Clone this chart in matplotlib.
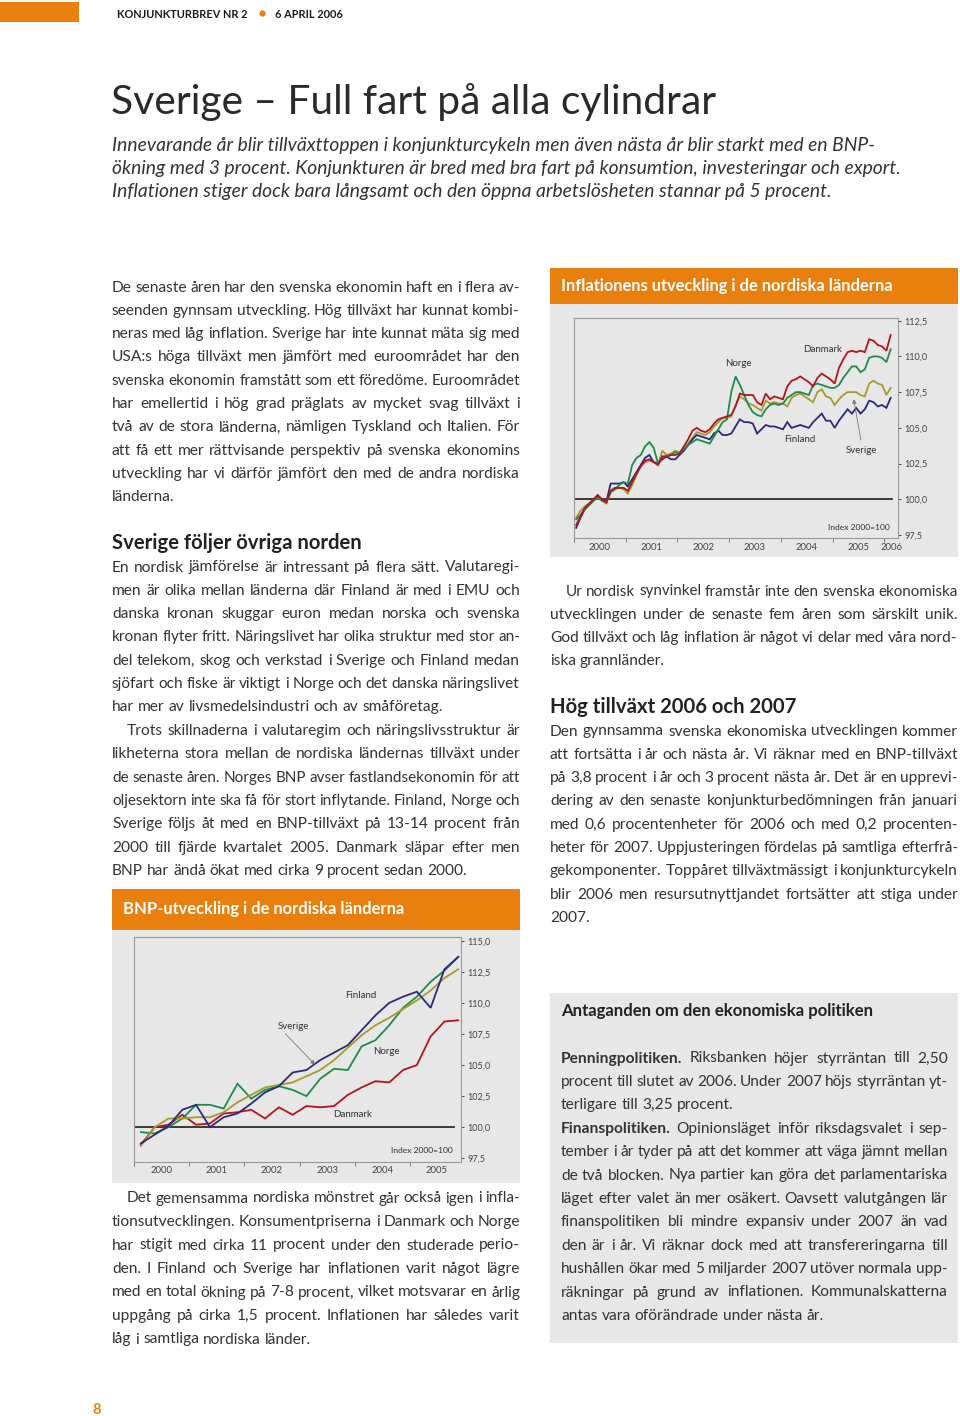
import numpy as np
import matplotlib.pyplot as plt
from matplotlib.font_manager import FontProperties

W, H = 960, 1416
ORANGE = '#e9800e'
BOX = '#e7e7e7'
TXT = '#333333'
BODY = ['Lato', 'DejaVu Sans']
BODY_SIZE = 11.2

COL_FIN = '#2c2a7c'
COL_DAN = '#b3141f'
COL_NOR = '#1d8c4c'
COL_SWE = '#a69a2c'

# Inflation, monthly index (2000=100), Jan 2000 - Feb 2006
infl_fin = [98.0, 98.7, 99.3, 99.6, 99.9, 100.2, 100.0, 99.8, 101.1, 101.1, 101.1, 101.2,
            100.9, 101.4, 101.9, 102.4, 102.9, 103.1, 102.6, 102.5, 102.8, 103.0, 102.8, 102.8,
            103.1, 103.4, 103.8, 104.2, 104.5, 104.4, 104.3, 104.2, 104.6, 104.8, 104.5, 104.5,
            104.6, 105.1, 105.6, 105.4, 105.4, 105.3, 104.6, 104.9, 105.2, 105.1, 105.1, 105.0,
            104.9, 105.4, 105.0, 105.1, 105.2, 105.1, 105.0, 105.4, 105.7, 106.0, 105.5, 105.5,
            105.0, 105.5, 105.9, 106.3, 106.0, 106.4, 106.0, 106.3, 106.9, 106.8, 106.5, 106.6,
            106.4, 107.1]
infl_dan = [98.2, 98.8, 99.4, 99.7, 100.0, 100.3, 100.0, 99.8, 100.6, 100.8, 100.8, 100.8,
            100.6, 101.2, 101.8, 102.3, 102.7, 102.8, 102.6, 102.4, 103.0, 103.0, 103.1, 103.1,
            103.2, 103.7, 104.2, 104.8, 105.0, 104.8, 104.7, 104.9, 105.3, 105.6, 105.7, 105.8,
            105.9, 106.5, 107.4, 107.3, 107.3, 107.3, 106.8, 106.6, 107.4, 107.0, 107.2, 107.1,
            107.0, 107.9, 108.3, 108.4, 108.6, 108.4, 108.2, 107.9, 108.5, 108.8, 108.6, 108.4,
            108.1, 109.2, 109.8, 110.3, 110.4, 110.3, 110.4, 110.3, 111.2, 111.1, 110.8, 110.7,
            110.4, 111.5]
infl_nor = [98.6, 98.9, 99.3, 99.6, 99.9, 100.2, 99.9, 99.8, 100.5, 100.7, 101.0, 101.2,
            101.1, 102.4, 102.9, 103.1, 103.7, 104.0, 103.6, 102.5, 103.0, 103.0, 103.1, 103.3,
            103.2, 103.5, 103.8, 104.0, 104.2, 104.1, 104.0, 103.9, 104.4, 104.9, 105.4, 105.6,
            107.5, 108.6, 108.0, 107.3, 106.6, 106.1, 105.9, 105.8, 106.3, 106.6, 106.7, 106.6,
            106.7, 107.1, 107.3, 107.5, 107.5, 107.4, 107.3, 108.0, 108.1, 108.0, 107.9, 107.8,
            107.8, 108.0, 108.5, 108.9, 109.3, 109.3, 108.9, 109.1, 109.9, 110.0, 110.0, 109.9,
            109.6, 110.5]
infl_swe = [98.7, 99.2, 99.5, 99.7, 99.9, 100.1, 99.9, 99.7, 100.5, 100.7, 100.8, 100.7,
            100.4, 101.0, 101.7, 102.3, 102.6, 102.7, 102.6, 102.4, 103.4, 103.1, 103.2, 103.4,
            103.3, 103.5, 103.9, 104.3, 104.7, 104.6, 104.5, 104.7, 105.1, 105.4, 105.7, 105.7,
            105.8, 106.6, 107.2, 107.0, 106.7, 106.6, 106.4, 106.2, 106.9, 106.7, 106.8, 106.7,
            106.7, 106.5, 107.1, 107.3, 107.4, 107.2, 107.0, 106.8, 107.5, 107.7, 107.2, 107.1,
            106.6, 107.0, 107.3, 107.5, 107.5, 107.5, 107.3, 107.2, 108.1, 108.3, 108.1, 108.0,
            107.3, 107.8]
infl_years = ['2000', '2001', '2002', '2003', '2004', '2005', '2006']

# BNP, quarterly index (2000=100), 2000Q1 - 2005Q4
bnp_fin = [98.7, 99.4, 100.1, 101.4, 101.8, 100.0, 100.8, 101.1, 101.9, 102.8, 103.3, 104.4,
           104.6, 105.4, 106.0, 106.6, 107.8, 109.0, 110.0, 110.5, 110.9, 109.6, 112.7, 113.7]
bnp_swe = [98.5, 100.0, 100.7, 100.7, 100.8, 100.8, 101.2, 102.0, 102.6, 103.2, 103.4, 103.6,
           104.1, 104.6, 105.4, 106.4, 107.4, 108.2, 108.8, 109.5, 110.2, 111.0, 112.0, 112.7]
bnp_nor = [99.6, 99.5, 100.0, 100.7, 101.8, 101.8, 101.5, 103.5, 102.3, 103.0, 103.3, 103.0,
           102.5, 103.9, 104.7, 104.6, 106.5, 107.0, 108.2, 109.6, 110.5, 111.7, 112.6, 113.7]
bnp_dan = [98.6, 100.0, 100.2, 101.0, 100.2, 100.3, 101.1, 101.2, 101.4, 100.7, 101.6, 101.0,
           101.7, 101.6, 101.7, 102.6, 103.2, 103.7, 103.6, 104.6, 105.0, 107.3, 108.5, 108.6]
bnp_years = ['2000', '2001', '2002', '2003', '2004', '2005']

title = 'Sverige \u2013 Full fart på alla cylindrar'
intro = ['Innevarande år blir tillväxttoppen i konjunkturcykeln men även nästa år blir starkt med en BNP-',
         'ökning med 3 procent. Konjunkturen är bred med bra fart på konsumtion, investeringar och export.',
         'Inflationen stiger dock bara långsamt och den öppna arbetslösheten stannar på 5 procent.']

para1 = ['De senaste åren har den svenska ekonomin haft en i flera av-',
         'seenden gynnsam utveckling. Hög tillväxt har kunnat kombi-',
         'neras med låg inflation. Sverige har inte kunnat mäta sig med',
         'USA:s höga tillväxt men jämfört med euroområdet har den',
         'svenska ekonomin framstått som ett föredöme. Euroområdet',
         'har emellertid i hög grad präglats av mycket svag tillväxt i',
         'två av de stora länderna, nämligen Tyskland och Italien. För',
         'att få ett mer rättvisande perspektiv på svenska ekonomins',
         'utveckling har vi därför jämfört den med de andra nordiska',
         'länderna.']
para2 = ['En nordisk jämförelse är intressant på flera sätt. Valutaregi-',
         'men är olika mellan länderna där Finland är med i EMU och',
         'danska kronan skuggar euron medan norska och svenska',
         'kronan flyter fritt. Näringslivet har olika struktur med stor an-',
         'del telekom, skog och verkstad i Sverige och Finland medan',
         'sjöfart och fiske är viktigt i Norge och det danska näringslivet',
         'har mer av livsmedelsindustri och av småföretag.']
para3 = ['Trots skillnaderna i valutaregim och näringslivsstruktur är',
         'likheterna stora mellan de nordiska ländernas tillväxt under',
         'de senaste åren. Norges BNP avser fastlandsekonomin för att',
         'oljesektorn inte ska få för stort inflytande. Finland, Norge och',
         'Sverige följs åt med en BNP-tillväxt på 13-14 procent från',
         '2000 till fjärde kvartalet 2005. Danmark släpar efter men',
         'BNP har ändå ökat med cirka 9 procent sedan 2000.']
para4 = ['Det gemensamma nordiska mönstret går också igen i infla-',
         'tionsutvecklingen. Konsumentpriserna i Danmark och Norge',
         'har stigit med cirka 11 procent under den studerade perio-',
         'den. I Finland och Sverige har inflationen varit något lägre',
         'med en total ökning på 7-8 procent, vilket motsvarar en årlig',
         'uppgång på cirka 1,5 procent. Inflationen har således varit',
         'låg i samtliga nordiska länder.']
para5 = ['Ur nordisk synvinkel framstår inte den svenska ekonomiska',
         'utvecklingen under de senaste fem åren som särskilt unik.',
         'God tillväxt och låg inflation är något vi delar med våra nord-',
         'iska grannländer.']
para6 = ['Den gynnsamma svenska ekonomiska utvecklingen kommer',
         'att fortsätta i år och nästa år. Vi räknar med en BNP-tillväxt',
         'på 3,8 procent i år och 3 procent nästa år. Det är en upprevi-',
         'dering av den senaste konjunkturbedömningen från januari',
         'med 0,6 procentenheter för 2006 och med 0,2 procenten-',
         'heter för 2007. Uppjusteringen fördelas på samtliga efterfrå-',
         'gekomponenter. Toppåret tillväxtmässigt i konjunkturcykeln',
         'blir 2006 men resursutnyttjandet fortsätter att stiga under',
         '2007.']
box_a = ['*Penningpolitiken.* Riksbanken höjer styrräntan till 2,50',
         'procent till slutet av 2006. Under 2007 höjs styrräntan yt-',
         'terligare till 3,25 procent.']
box_b = ['*Finanspolitiken.* Opinionsläget inför riksdagsvalet i sep-',
         'tember i år tyder på att det kommer att väga jämnt mellan',
         'de två blocken. Nya partier kan göra det parlamentariska',
         'läget efter valet än mer osäkert. Oavsett valutgången lär',
         'finanspolitiken bli mindre expansiv under 2007 än vad',
         'den är i år. Vi räknar dock med att transfereringarna till',
         'hushållen ökar med 5 miljarder 2007 utöver normala upp-',
         'räkningar på grund av inflationen. Kommunalskatterna',
         'antas vara oförändrade under nästa år.']

fig = plt.figure(figsize=(W / 100, H / 100), dpi=100)
fig.patch.set_facecolor('white')
page = fig.add_axes([0, 0, 1, 1])
page.set_xlim(0, W)
page.set_ylim(H, 0)
page.axis('off')
renderer = fig.canvas.get_renderer()


def twidth(s, size, weight='normal'):
    # advance width: measure with guard glyphs so spaces and punctuation count
    fp = FontProperties(family=BODY, size=size, weight=weight)
    w1 = renderer.get_text_width_height_descent('|' + s + '|', fp, ismath=False)[0]
    w0 = renderer.get_text_width_height_descent('||', fp, ismath=False)[0]
    return w1 - w0


def rect(x0, y0, x1, y1, color):
    page.add_patch(plt.Rectangle((x0, y0), x1 - x0, y1 - y0, color=color, lw=0, zorder=0))


def segments(word):
    parts = word.split('*')
    return [(p, 'bold' if i % 2 else 'normal') for i, p in enumerate(parts) if p]


def line(s, x0, x1, y, size=BODY_SIZE, justify=True, color=TXT):
    words = [segments(w) for w in s.split()]

    def measure(sz):
        ws = [sum(twidth(p, sz, wt) for p, wt in segs) for segs in words]
        return ws, twidth(' ', sz)

    widths, space = measure(size)
    # shrink a line that would not fit with normal word spacing
    while sum(widths) + 0.85 * space * (len(words) - 1) > x1 - x0 and size > 8:
        size -= 0.1
        widths, space = measure(size)
    gap = space
    if justify and len(words) > 1:
        gap = (x1 - x0 - sum(widths)) / (len(words) - 1)
    x = x0
    for segs, w in zip(words, widths):
        xx = x
        for p, wt in segs:
            page.text(xx, y + 5.5, p, fontsize=size, fontweight=wt, family=BODY,
                      color=color, va='baseline', ha='left')
            xx += twidth(p, size, wt)
        x += w + gap


def paragraph(lines, x0, x1, y0, dy, indent=0, size=BODY_SIZE):
    for i, s in enumerate(lines):
        last = i == len(lines) - 1
        line(s, x0 + (indent if i == 0 else 0), x1, y0 + i * dy, size, justify=not last)


def frac(x0, y0, x1, y1):
    return [x0 / W, 1 - y1 / H, (x1 - x0) / W, (y1 - y0) / H]


def chart(box, xpos, series, ylim, xlim, yticks, ylabels, year_ticks, label_pos, labels, labpad):
    ax = fig.add_axes(frac(*box))
    ax.set_facecolor(BOX)
    for vals, col in series:
        ax.plot(xpos, vals, color=col, lw=1.3, solid_joinstyle='miter')
    ax.axhline(100, xmax=0.98, color='#1c1c1c', lw=1.2, zorder=1)
    ax.set_xlim(*xlim)
    ax.set_ylim(*ylim)
    ax.yaxis.tick_right()
    ax.set_yticks(yticks)
    ax.set_yticklabels(ylabels, fontsize=6.6, color='#444444', family=BODY)
    ax.tick_params(axis='y', length=2.5, width=0.7, colors='#444444', pad=2)
    ax.set_xticks(year_ticks)
    ax.set_xticklabels([])
    ax.tick_params(axis='x', which='major', length=3, width=0.7, color='#777777')
    ax.set_xticks(label_pos, minor=True)
    ax.set_xticklabels(labels, minor=True, fontsize=6.8, color='#444444', family=BODY)
    ax.tick_params(axis='x', which='minor', length=0, pad=labpad)
    for sp in ax.spines.values():
        sp.set_color('#999999')
        sp.set_linewidth(0.8)
    return ax


# page header
rect(0, 2, 79, 22, ORANGE)
page.text(117, 18, 'KONJUNKTURBREV NR 2', fontsize=7.9, fontweight='bold', family=BODY, color='#1a1a1a')
page.plot([262], [13], 'o', color=ORANGE, ms=3.5)
page.text(275, 18, '6 APRIL 2006', fontsize=7.9, fontweight='bold', family=BODY, color='#1a1a1a')

page.text(111, 114, title, fontsize=29.3, fontweight='normal', family=BODY, color='#2a2a2a')
for i, s in enumerate(intro):
    page.text(112, 151 + i * 23, s, fontsize=13.9, style='italic', family=BODY, color=TXT)

# left column
paragraph(para1, 112, 520, 286, 23.33)
page.text(112, 549, 'Sverige följer övriga norden', fontsize=14.6, fontweight='bold', family=BODY, color='#222222')
paragraph(para2, 112, 520, 566, 23.33)
paragraph(para3, 112, 520, 729.5, 23.33, indent=15)

rect(112, 889, 520, 930, ORANGE)
page.text(123, 914, 'BNP-utveckling i de nordiska länderna', fontsize=11.9, fontweight='bold',
          family=BODY, color='white')
rect(112, 930, 520, 1183, BOX)

paragraph(para4, 112, 520, 1197, 23.5, indent=15)
page.text(92, 1414, '8', fontsize=10.5, fontweight='bold', family=BODY, color=ORANGE)

# right column
rect(550, 268, 958, 304, ORANGE)
page.text(561, 291, 'Inflationens utveckling i de nordiska länderna', fontsize=11.9, fontweight='bold',
          family=BODY, color='white')
rect(550, 304, 958, 557, BOX)

paragraph(para5, 550, 958, 590, 23.33, indent=16)
page.text(550, 713, 'Hög tillväxt 2006 och 2007', fontsize=14.6, fontweight='bold', family=BODY, color='#222222')
paragraph(para6, 550, 958, 730, 23.33)

rect(550, 993, 958, 1343, BOX)
page.text(561, 1016, 'Antaganden om den ekonomiska politiken', fontsize=12.1, fontweight='bold',
          family=BODY, color='#222222')
paragraph(box_a, 561, 948, 1057, 23.4)
paragraph(box_b, 561, 948, 1127.2, 23.4)

# inflation chart
months = np.arange(len(infl_fin)) + 0.5
ax1 = chart((574, 318, 898, 538), months,
            [(infl_swe, COL_SWE), (infl_fin, COL_FIN), (infl_nor, COL_NOR), (infl_dan, COL_DAN)],
            (97.29, 112.69), (0, 75.2),
            [97.5, 100, 102.5, 105, 107.5, 110, 112.5],
            ['97,5', '100,0', '102,5', '105,0', '107,5', '110,0', '112,5'],
            np.arange(0, 84, 12), [6, 18, 30, 42, 54, 66, 73.7], infl_years, 3.5)
lab = dict(fontsize=7, color='#333333', family=BODY, ha='center', va='center')
ax1.text(57.6, 110.52, 'Danmark', **lab)
ax1.text(38.1, 109.47, 'Norge', **lab)
ax1.text(52.5, 104.21, 'Finland', **lab)
ax1.text(66.6, 103.44, 'Sverige', **lab)
ax1.text(66.2, 98.04, 'Index 2000=100', fontsize=6.1, color='#333333', family=BODY, ha='center', va='center')
ax1.annotate('', xy=(64.8, 107.2), xytext=(66.7, 103.95),
             arrowprops=dict(arrowstyle='-|>', color='#777777', lw=0.6, mutation_scale=6))

# BNP chart
quarters = np.arange(len(bnp_fin)) + 0.5
ax2 = chart((134, 937, 461, 1162), quarters,
            [(bnp_dan, COL_DAN), (bnp_nor, COL_NOR), (bnp_swe, COL_SWE), (bnp_fin, COL_FIN)],
            (97.2, 115.3), (0, 23.7),
            [97.5, 100, 102.5, 105, 107.5, 110, 112.5, 115],
            ['97,5', '100,0', '102,5', '105,0', '107,5', '110,0', '112,5', '115,0'],
            np.arange(0, 24, 4), [2, 6, 10, 14, 18, 21.9], bnp_years, 3)
ax2.text(16.47, 110.63, 'Finland', **lab)
ax2.text(18.29, 106.05, 'Norge', **lab)
ax2.text(15.82, 101.06, 'Danmark', **lab)
ax2.text(11.54, 108.1, 'Sverige', **lab)
ax2.text(20.83, 98.16, 'Index 2000=100', fontsize=6.1, color='#333333', family=BODY, ha='center', va='center')
ax2.annotate('', xy=(13.26, 104.87), xytext=(10.83, 107.68),
             arrowprops=dict(arrowstyle='-|>', color='#777777', lw=0.6, mutation_scale=6))

fig.savefig('out.png', dpi=100, facecolor='white')
